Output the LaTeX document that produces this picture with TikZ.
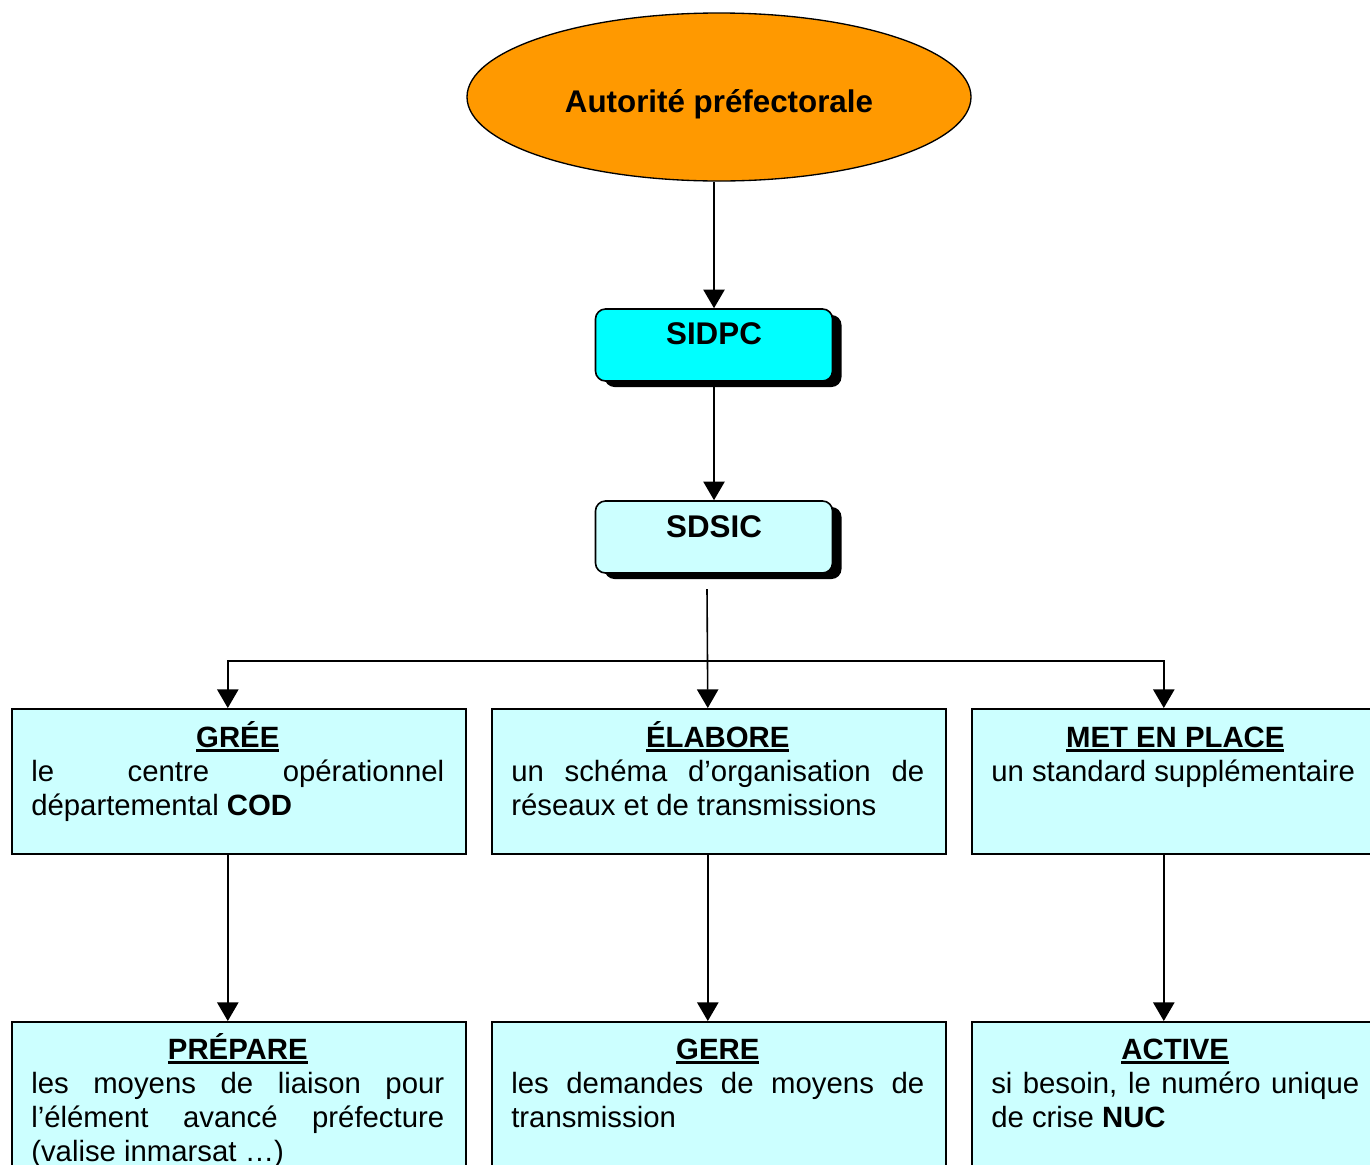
\documentclass[tikz,border=0pt]{standalone}
\usepackage{fontspec}
\setmainfont{Liberation Sans}
\usetikzlibrary{arrows.meta,shapes.geometric,shadows,calc}
\definecolor{orangeA}{HTML}{FF9900}
\definecolor{cyanA}{HTML}{00FFFF}
\definecolor{cyanL}{HTML}{CCFFFF}
\newcommand\myul[1]{\setbox0\hbox{#1}\rlap{\rule[-3.4pt]{\wd0}{2.2pt}}\box0}
\newcommand\boxtitle[1]{{\centering\vrule height 22pt width 0pt\myul{\textbf{#1}}\par}}
\hyphenpenalty=10000
\exhyphenpenalty=10000
\tolerance=10000
\begin{document}
\begin{tikzpicture}[x=0.75pt,y=-0.75pt,
  arr/.style={line width=1.2pt,-{Triangle[width=16pt,length=14pt]}},
  sbox/.style={draw,line width=1.2pt,rounded corners=7.5pt,minimum width=177.75pt,minimum height=54pt,inner sep=0pt,
    drop shadow={shadow xshift=6.75pt,shadow yshift=-4.5pt,fill=black,opacity=1}},
  bigfont/.style={font=\bfseries\fontsize{23.5}{28}\selectfont},
  box/.style={draw,line width=1.2pt,fill=cyanL,minimum height=108.75pt,inner sep=0pt,anchor=north west},
  lowbox/.style={box,minimum height=119.25pt},
  txt/.style={anchor=north west,inner sep=0pt,align=justify,font=\fontsize{22}{25.5}\selectfont}
]
\useasboundingbox (0,0) rectangle (1370,1164);
\clip (0,0) rectangle (1370,1164);

% top ellipse
\node[ellipse,draw,line width=1pt,fill=orangeA,minimum width=378pt,minimum height=126pt,inner sep=0pt,
  label={[bigfont,yshift=-5.25pt]center:Autorité préfectorale}] (aut) at (719,97) {};

% SIDPC and SDSIC
\node[sbox,fill=cyanA,label={[bigfont,yshift=8.25pt]center:SIDPC}] (sidpc) at (714,345) {};
\node[sbox,fill=cyanL,label={[bigfont,yshift=7.5pt]center:SDSIC}] (sdsic) at (714,537) {};

% row 1 boxes
\node[box,minimum width=340.5pt] (b1) at (11,708) {};
\node[box,minimum width=340.5pt] (b2) at (491,708) {};
\node[box,minimum width=306.75pt] (b3) at (971,708) {};

% row 2 boxes
\node[lowbox,minimum width=340.5pt] (d1) at (11,1021) {};
\node[lowbox,minimum width=340.5pt] (d2) at (491,1021) {};
\node[lowbox,minimum width=306.75pt] (d3) at (971,1021) {};

% texts row 1
\node[txt,text width=309.75pt] (t1) at ($(b1.north west)+(20,9.7)$)
  {\boxtitle{GRÉE}le centre opérationnel départemental \textbf{COD}};
\node[txt,text width=309.75pt] (t2) at ($(b2.north west)+(20,9.7)$)
  {\boxtitle{ÉLABORE}un schéma d’organisation de réseaux et de transmissions};
\node[txt,text width=276pt] (t3) at ($(b3.north west)+(20,9.7)$)
  {\boxtitle{MET EN PLACE}un standard supplémentaire};

% texts row 2
\node[txt,text width=309.75pt] (u1) at ($(d1.north west)+(20,8.7)$)
  {\boxtitle{PRÉPARE}les moyens de liaison pour l’élément avancé préfecture (valise inmarsat …)};
\node[txt,text width=309.75pt] (u2) at ($(d2.north west)+(20,8.7)$)
  {\boxtitle{GERE}les demandes de moyens de transmission};
\node[txt,text width=276pt] (u3) at ($(d3.north west)+(20,8.7)$)
  {\boxtitle{ACTIVE}si besoin, le numéro unique de crise \textbf{NUC}};

% connectors
\draw[arr] (aut.south -| sidpc.north) -- (sidpc.north);
\draw[arr] (sidpc.south) -- (sdsic.north);
\coordinate (s0) at (707,589);
\coordinate (sp) at (707,661);
\draw[arr] (s0) -- ($(b2.north)+(-11,0)$);
\draw[arr] (sp) -| ($(b1.north)+(-11,0)$);
\draw[arr] (sp) -| ($(b3.north)+(-12.5,0)$);
\draw[arr] ($(b1.south)+(-11,0)$) -- ($(d1.north)+(-11,0)$);
\draw[arr] ($(b2.south)+(-11,0)$) -- ($(d2.north)+(-11,0)$);
\draw[arr] ($(b3.south)+(-12.5,0)$) -- ($(d3.north)+(-12.5,0)$);
\end{tikzpicture}
\end{document}
